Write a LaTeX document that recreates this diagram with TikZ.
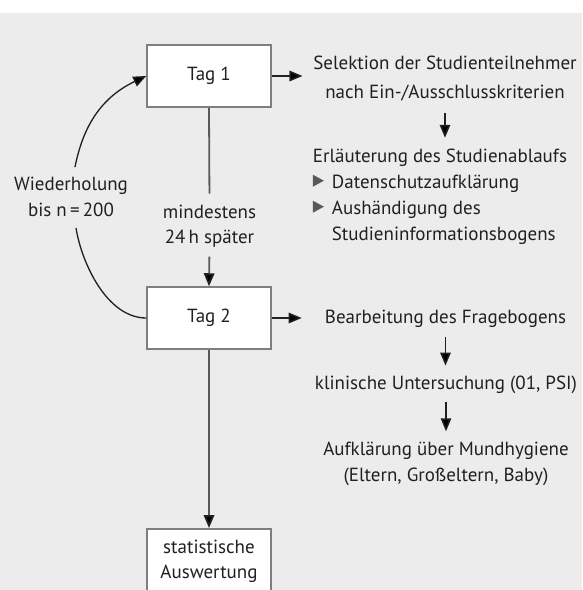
\documentclass[tikz,border=0pt]{standalone}
\usepackage{fontspec}
\setmainfont{PT Sans}
\usetikzlibrary{arrows.meta}
\definecolor{bg}{HTML}{EBECEB}
\definecolor{ink}{HTML}{231F20}
\definecolor{boxline}{HTML}{7F7F7F}
\definecolor{conn}{HTML}{58595B}
\definecolor{bulgray}{HTML}{58595B}
\newcommand\listbul{\tikz[baseline=0pt,x=1pt,y=1pt]\fill[bulgray](0,1.5)--(11,7.5)--(0,13.5)--cycle;}
\newcommand\bulitem{\makebox[19pt][l]{\listbul}}
\begin{document}
\begin{tikzpicture}[x=1pt,y=-1pt,
  daybox/.style={draw=boxline, fill=white, line width=1.5pt, minimum width=124pt,
    minimum height=62pt, inner sep=0pt, align=center, text=ink,
    font=\fontsize{19}{25}\selectfont},
  txt/.style={inner sep=0pt, align=center, text=ink, font=\fontsize{19}{26}\selectfont},
  tipA/.style={-{Triangle[length=13pt,width=10.5pt,color=ink]}},
  arr/.style={tipA, draw=ink, line width=1.5pt},
  garr/.style={tipA, draw=conn, line width=1.8pt},
  gline/.style={draw=conn, line width=1.8pt},
  loopline/.style={draw=ink, line width=1.3pt}
]
\useasboundingbox (0,0) rectangle (582,590);
\fill[white] (0,0) rectangle (582,13);
\fill[bg] (0,13) rectangle (582,590);

% boxes
\node[daybox] (tag1) at (209,76) {Tag 1};
\node[daybox] (tag2) at (209,318) {Tag 2};
\node[daybox, anchor=north, minimum height=0pt, inner ysep=11pt] (stat) at (209,528) {statistische\\Auswertung};

% texts (base anchor = baseline of the last line)
\node[txt, anchor=base] (sel) at (445,98.3) {Selektion der Studienteilnehmer\\[3pt]nach Ein-/Ausschlusskriterien};
\node[txt, anchor=base west, align=left] (erl) at (312.7,240.2) {Erläuterung des Studienablaufs\\
\bulitem Datenschutzaufklärung\\
\bulitem Aushändigung des\\
\hspace*{19pt}Studieninformationsbogens};
\node[txt, anchor=base, font=\fontsize{19}{25}\selectfont] (mind) at (209.5,243.3) {mindestens\\24\,h später};
\node[txt, anchor=base, font=\fontsize{19}{25.3}\selectfont] (wdh) at (71,216) {Wiederholung\\bis n\,=\,200};
\node[txt, anchor=base] (bearb) at (445.5,323.3) {Bearbeitung des Fragebogens};
\node[txt, anchor=base] (klin) at (446,389.3) {klinische Untersuchung (01, PSI)};
\node[txt, anchor=base] (aufk) at (446,481.7) {Aufklärung über Mundhygiene\\(Eltern, Großeltern, Baby)};

% loop
\coordinate (cb) at (76,228);
\coordinate (ct) at (75,167);
\draw[loopline] (tag2.west) .. controls (107,318) and (81.6,263) .. (cb);
\draw[loopline, tipA] (ct) .. controls (82,132) and (97.2,99.3) .. (tag1.west);

% connectors
\draw[arr, shorten >=10.7pt] (tag1.east) -- (tag1.east -| sel.west);
\draw[arr, shorten <=12pt, shorten >=10.7pt] (sel.south) -- (sel.south |- erl.north);
\draw[gline, shorten >=11pt] (tag1.south) -- (mind.north);
\draw[garr, shorten <=9.4pt] (mind.south) -- (tag2.north);
\draw[arr, shorten >=23pt] (tag2.east) -- (tag2.east -| bearb.west);
\draw[arr, shorten <=9.4pt, shorten >=10pt] (bearb.south) -- (bearb.south |- klin.north);
\draw[arr, shorten <=8pt, shorten >=10.7pt] (klin.south) -- (klin.south |- aufk.north);
\draw[garr] (tag2.south) -- (stat.north);
\end{tikzpicture}
\end{document}
